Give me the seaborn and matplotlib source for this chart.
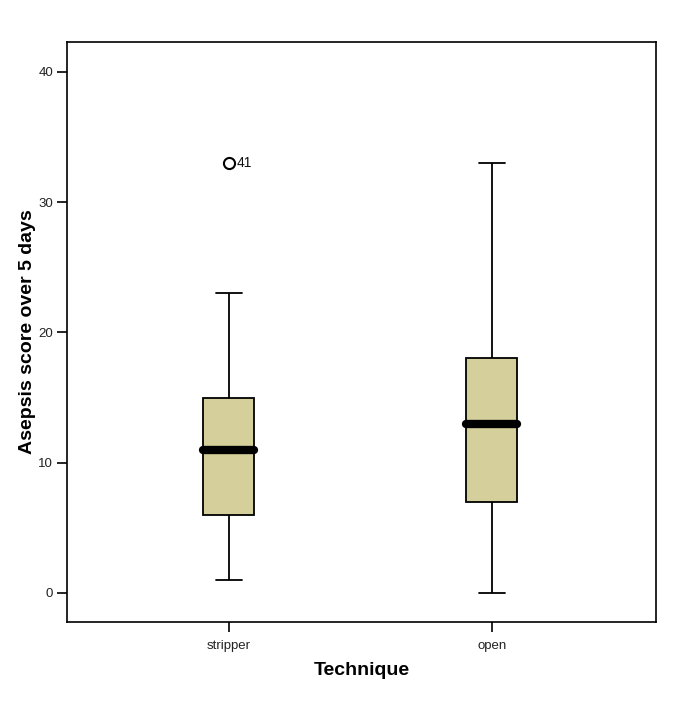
import matplotlib
matplotlib.use("Agg")
import matplotlib.pyplot as plt
import seaborn as sns
import pandas as pd

# Data (sample values reproducing the five-number summaries)
categories = ["stripper", "open"]
stripper_scores = [1, 3, 6, 9, 11, 13, 15, 23, 33]
open_scores = [0, 4, 7, 10, 13, 16, 18, 25, 33]
outlier_case = "41"
outlier_value = 33
yticks = [0, 10, 20, 30, 40]

df = pd.DataFrame({
    "Technique": ["stripper"] * len(stripper_scores) + ["open"] * len(open_scores),
    "Score": stripper_scores + open_scores,
})

sns.set_style("white")
plt.rcParams['font.family'] = ['Liberation Sans', 'DejaVu Sans']

fig = plt.figure(figsize=(6.85, 7.08), dpi=100)
ax = fig.add_axes([0.0978, 0.1215, 0.8599, 0.8192])

sns.boxplot(
    data=df, x="Technique", y="Score", order=categories, ax=ax,
    width=0.194, color="#D4CF9B", saturation=1, whis=1.5,
    linecolor="black", linewidth=1.3,
    boxprops=dict(edgecolor="black", linewidth=1.3),
    medianprops=dict(color="black", linewidth=6, solid_capstyle="round"),
    whiskerprops=dict(color="black", linewidth=1.3),
    capprops=dict(color="black", linewidth=1.3),
    capwidths=0.1,
    flierprops=dict(marker="o", markersize=8, markerfacecolor="white",
                    markeredgecolor="black", markeredgewidth=1.5),
)

ax.text(0.028, outlier_value, outlier_case, va="center", ha="left",
        fontsize=10, color="#111111")

ax.set_xlim(-0.616, 1.624)
ax.set_ylim(-2.23, 42.3)
ax.set_yticks(yticks)
ax.set_yticklabels([str(t) for t in yticks])

for s in ax.spines.values():
    s.set_visible(True)
    s.set_color("black")
    s.set_linewidth(1.2)

ax.tick_params(axis="both", direction="out", length=7, width=1.2,
               color="black", labelsize=9.5, labelcolor="#222222",
               left=True, bottom=True)
ax.tick_params(axis="x", pad=6)
ax.tick_params(axis="y", pad=3)

ax.set_xlabel("Technique", fontsize=14, fontweight="bold", labelpad=7, color="black")
ax.set_ylabel("Asepsis score over 5 days", fontsize=14, fontweight="bold", labelpad=1.5, color="black")

fig.savefig("out.png", dpi=100)
